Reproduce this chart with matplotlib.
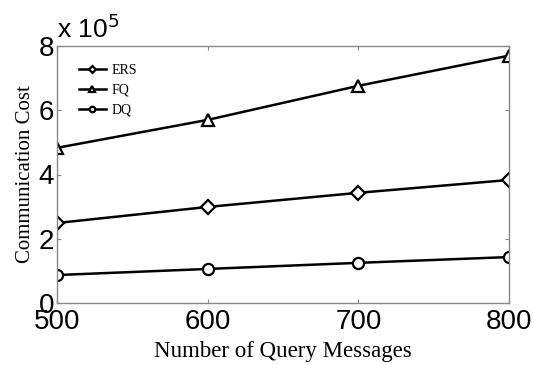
import numpy as np
import matplotlib.pyplot as plt

queries = [500, 600, 700, 800]
ers = [2.49, 2.99, 3.43, 3.83]
fq = [4.83, 5.70, 6.76, 7.70]
dq = [0.87, 1.06, 1.25, 1.43]

fig = plt.figure(figsize=(5.34, 3.65), dpi=100)
ax = fig.add_axes([57 / 534, 62 / 365, 452 / 534, 257 / 365])

style = dict(color="black", linewidth=1.8, markersize=8, markerfacecolor="white",
             markeredgewidth=1.6)
ax.plot(queries, np.array(ers) * 1e5, marker="D", label="ERS", **dict(style, markersize=7))
ax.plot(queries, np.array(fq) * 1e5, marker="^", label="FQ", **style)
ax.plot(queries, np.array(dq) * 1e5, marker="o", label="DQ", **style)

ax.set_xlim(500, 800)
ax.set_ylim(0, 8e5)
ax.set_xticks(queries)
ax.set_yticks([0, 2e5, 4e5, 6e5, 8e5])
ax.set_yticklabels(["0", "2", "4", "6", "8"])
ax.tick_params(direction="in", length=3, color="#888888", labelsize=20, pad=2,
               top=True, right=True)
ax.tick_params(axis="x", pad=4)
for lab in ax.get_xticklabels() + ax.get_yticklabels():
    lab.set_family("Liberation Sans")
for sp in ax.spines.values():
    sp.set_color("#888888")
    sp.set_linewidth(1.0)

ax.set_xlabel("Number of Query Messages", family="Liberation Serif", fontsize=16.5, labelpad=5)
ax.set_ylabel("Communication Cost", family="Liberation Serif", fontsize=15, labelpad=3)
fig.text(57 / 534, 1 - 38 / 365, r"x 10$^5$", family="Liberation Sans", fontsize=19,
         ha="left", va="baseline")

leg = ax.legend(loc="upper left", frameon=False, prop={"family": "Liberation Serif", "size": 10},
                handlelength=2.0, markerscale=0.5, labelspacing=0.5,
                bbox_to_anchor=(0.02, 0.98), handletextpad=0.4)

fig.savefig("out.png", dpi=100)
